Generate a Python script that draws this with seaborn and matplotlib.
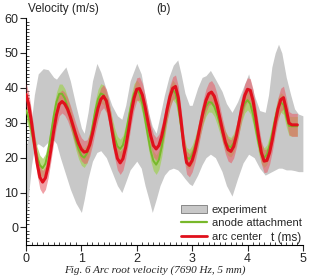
import numpy as np
import pandas as pd
import matplotlib
matplotlib.use("Agg")
import matplotlib.pyplot as plt
from matplotlib.patches import Patch
from matplotlib.lines import Line2D
from matplotlib.ticker import MultipleLocator
import seaborn as sns

# tiempo de muestreo de las curvas simuladas (ms)
t_ms = [
    0.00, 0.05, 0.10, 0.15, 0.20, 0.25, 0.30, 0.35, 0.40, 0.45,
    0.50, 0.55, 0.60, 0.65, 0.70, 0.75, 0.80, 0.85, 0.90, 0.95,
    1.00, 1.05, 1.10, 1.15, 1.20, 1.25, 1.30, 1.35, 1.40, 1.45,
    1.50, 1.55, 1.60, 1.65, 1.70, 1.75, 1.80, 1.85, 1.90, 1.95,
    2.00, 2.05, 2.10, 2.15, 2.20, 2.25, 2.30, 2.35, 2.40, 2.45,
    2.50, 2.55, 2.60, 2.65, 2.70, 2.75, 2.80, 2.85, 2.90, 2.95,
    3.00, 3.05, 3.10, 3.15, 3.20, 3.25, 3.30, 3.35, 3.40, 3.45,
    3.50, 3.55, 3.60, 3.65, 3.70, 3.75, 3.80, 3.85, 3.90, 3.95,
    4.00, 4.05, 4.10, 4.15, 4.20, 4.25, 4.30, 4.35, 4.40, 4.45,
    4.50, 4.55, 4.60, 4.65, 4.70, 4.75, 4.80, 4.85, 4.90,
]

# arc center velocity (m/s)
arc_center = [
    38.1, 35.1, 30.0, 24.0, 18.4, 14.4, 13.0, 14.2, 17.6, 22.4,
    27.7, 32.3, 35.3, 36.1, 35.4, 33.9, 31.7, 29.1, 26.5, 24.1,
    22.4, 21.6, 21.8, 23.7, 26.9, 30.7, 34.2, 36.7, 37.6, 36.3,
    32.8, 28.0, 23.3, 19.8, 18.5, 19.7, 23.0, 27.7, 32.8, 37.0,
    39.6, 39.8, 38.0, 34.6, 30.4, 26.4, 23.5, 22.5, 23.5, 26.1,
    29.8, 34.0, 37.5, 39.9, 40.4, 37.2, 30.6, 23.4, 18.6, 17.8,
    19.2, 21.9, 25.5, 29.5, 33.3, 36.4, 38.3, 38.8, 37.6, 35.0,
    31.4, 27.7, 24.4, 22.3, 21.8, 23.2, 26.3, 30.4, 34.5, 37.8,
    39.6, 39.3, 36.3, 31.5, 26.1, 21.5, 19.0, 19.2, 21.5, 25.3,
    29.9, 33.9, 36.6, 37.2, 33.8, 29.9, 29.4, 29.4, 29.4,
]

# anode attachment velocity (m/s)
anode = [
    33.6, 31.2, 27.7, 23.8, 20.3, 17.9, 17.0, 18.3, 21.8, 26.7,
    31.9, 36.0, 38.3, 38.3, 37.0, 34.6, 31.6, 28.2, 25.0, 22.4,
    20.6, 20.0, 21.2, 24.4, 28.8, 33.4, 36.8, 38.4, 38.0, 35.9,
    32.7, 29.0, 25.7, 23.3, 22.5, 23.6, 26.8, 31.0, 35.2, 38.4,
    39.5, 38.4, 35.5, 31.1, 26.4, 22.0, 19.1, 18.0, 19.4, 23.1,
    28.2, 33.5, 37.5, 39.4, 38.4, 34.5, 28.9, 23.5, 20.1, 19.6,
    20.8, 23.1, 26.1, 29.4, 32.4, 34.7, 35.9, 35.8, 34.6, 32.4,
    29.8, 27.1, 24.8, 23.4, 23.0, 24.2, 26.8, 30.1, 33.3, 35.6,
    36.5, 35.4, 32.4, 28.2, 24.1, 21.1, 20.0, 20.9, 23.6, 27.2,
    31.1, 34.2, 35.8, 35.2, 31.7, 29.1, 29.0, 29.0, 29.0,
]

# ancho de las bandas de dispersion (m/s)
arc_spread = 3.3
anode_spread = 2.8

# envolvente del experimento
exp_t = [
    0.00, 0.05, 0.10, 0.15, 0.22, 0.31, 0.40, 0.50, 0.55, 0.62,
    0.72, 0.80, 0.90, 1.00, 1.05, 1.12, 1.20, 1.28, 1.35, 1.45,
    1.55, 1.65, 1.73, 1.80, 1.88, 2.00, 2.08, 2.15, 2.22, 2.28,
    2.35, 2.42, 2.50, 2.58, 2.66, 2.74, 2.80, 2.87, 2.95, 3.00,
    3.10, 3.18, 3.25, 3.33, 3.42, 3.54, 3.62, 3.72, 3.82, 3.92,
    4.02, 4.12, 4.22, 4.32, 4.38, 4.44, 4.50, 4.56, 4.62, 4.70,
    4.78, 4.85, 4.92, 5.00,
]
exp_hi = [
    23, 26, 31, 38, 44, 45.5, 45.2, 43, 42.5, 44,
    46, 42, 35, 28.5, 27, 33, 42, 47, 44.5, 39.5,
    35, 32, 31, 35, 42, 47, 44, 38, 32.5, 29,
    27, 32, 38, 43, 46.5, 48, 44, 38.5, 35, 35,
    40, 43, 43.5, 45, 42.5, 39, 35.5, 33, 36, 40,
    44, 38, 33.5, 33, 38, 46, 50, 52.5, 50, 43,
    38, 34, 32.5, 32,
]
exp_lo = [
    2.3, 10, 18, 23, 24, 23, 24.5, 25, 24, 20,
    15, 11, 7, 4.3, 8, 14, 19, 21.5, 22, 20,
    16, 12, 10, 13, 16.5, 19, 17, 12, 8, 4.3,
    8, 12, 15, 16.5, 17, 16.5, 15.5, 14, 12.5, 12,
    15, 18, 20, 21, 20, 16, 12, 9, 14, 18.5,
    21, 20, 17, 15, 15.5, 16, 16.5, 17, 17, 16.5,
    16.5, 16.3, 16, 16,
]

ROJO = '#e0101c'
ROJO_BANDA = '#e6616b'
VERDE = '#78b82a'
VERDE_BANDA = '#a3d05c'
GRIS = '#c8c8c8'

df = pd.DataFrame({'t': t_ms, 'arc': arc_center, 'anode': anode})
exp = pd.DataFrame({'t': exp_t, 'lo': exp_lo, 'hi': exp_hi})

sns.set_style("ticks")
plt.rcParams['font.family'] = ['Liberation Sans', 'DejaVu Sans']

fig = plt.figure(figsize=(3.1, 2.78), dpi=100)
ax = fig.add_axes([0.084, 0.119, 0.893, 0.816])

ax.fill_between(exp['t'], exp['lo'], exp['hi'], color=GRIS, lw=0, zorder=1)
ax.fill_between(df['t'], df['anode'] - anode_spread, df['anode'] + anode_spread,
                color=VERDE_BANDA, alpha=0.75, lw=0, zorder=2)
ax.fill_between(df['t'], df['arc'] - arc_spread, df['arc'] + arc_spread,
                color=ROJO_BANDA, alpha=0.6, lw=0, zorder=3)
sns.lineplot(data=df, x='t', y='anode', color=VERDE, lw=1.4, ax=ax, zorder=4)
sns.lineplot(data=df, x='t', y='arc', color=ROJO, lw=2.2, ax=ax, zorder=5)

ax.set_xlim(0, 5)
ax.set_ylim(-5, 60)
ax.set_xticks([0, 1, 2, 3, 4, 5])
ax.set_yticks([0, 10, 20, 30, 40, 50, 60])
ax.xaxis.set_minor_locator(MultipleLocator(0.1))
ax.yaxis.set_minor_locator(MultipleLocator(1))
ax.tick_params(which='major', direction='out', length=4, width=0.8, labelsize=9, pad=1.5)
ax.tick_params(which='minor', direction='in', length=2, width=0.6)
ax.set_xlabel('')
ax.set_ylabel('')
sns.despine(ax=ax)
for s in ['left', 'bottom']:
    ax.spines[s].set_linewidth(0.8)
    ax.spines[s].set_color('black')

ax.text(0.008, 1.015, 'Velocity (m/s)', transform=ax.transAxes, fontsize=8.5,
        ha='left', va='bottom')
ax.text(0.47, 1.015, '(b)', transform=ax.transAxes, fontsize=8.5,
        ha='left', va='bottom')
ax.text(0.995, 0.005, 't (ms)', transform=ax.transAxes, fontsize=8.5,
        ha='right', va='bottom')

handles = [
    Patch(facecolor=GRIS, edgecolor='#7a7a7a', linewidth=0.6),
    Line2D([], [], color=VERDE, lw=1.6),
    Line2D([], [], color=ROJO, lw=2.0),
]
ax.legend(handles, ['experiment', 'anode attachment', 'arc center'],
          loc='lower left', bbox_to_anchor=(0.53, -0.02), frameon=False,
          fontsize=8, handlelength=2.4, handletextpad=0.4, labelspacing=0.3,
          borderpad=0.2)

fig.text(0.5, 0.012, 'Fig. 6 Arc root velocity (7690 Hz, 5 mm)',
         family=['Liberation Serif', 'DejaVu Serif'], style='italic',
         fontsize=8, ha='center', va='bottom')

fig.savefig('out.png', dpi=100)
